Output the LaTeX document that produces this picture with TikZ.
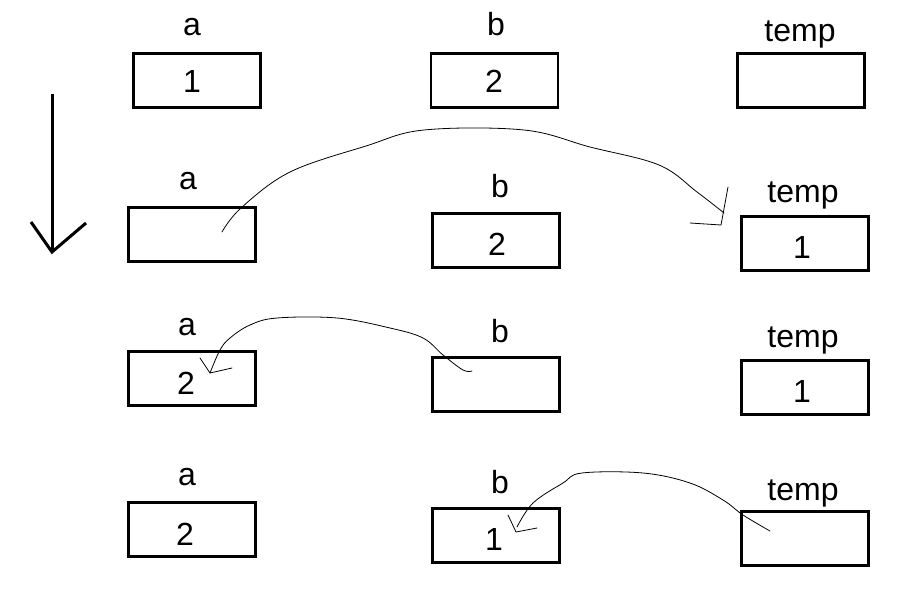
\documentclass[tikz,border=0pt]{standalone}
\usepackage{fontspec}
\setmainfont{Liberation Sans}
\begin{document}
\begin{tikzpicture}[x=1pt,y=-1pt,
  cell/.style={draw,line width=2.8pt,minimum width=127pt,minimum height=54pt,inner sep=0pt},
  num/.style={inner sep=0pt,font=\fontsize{32}{38}\selectfont},
  lbl/.style={anchor=base,inner sep=0pt,font=\fontsize{32}{38}\selectfont},
  hand/.style={line width=0.8pt,line join=round,line cap=round}]
\useasboundingbox (0,0) rectangle (903,596);
% row 1
\node[cell] (a1) at (197,80.5) {};
\node[cell] (b1) at (494.5,80.5) {};
\node[cell] (t1) at (801,80.5) {};
\node[num] (va1) at (192,81) {1};
\node[num] (vb1) at (494,81) {2};
\node[lbl] (la1) at (192,36) {a};
\node[lbl] (lb1) at (496,36) {b};
\node[lbl] (lt1) at (800,42) {temp};
% row 2
\node[cell] (a2) at (192,234.5) {};
\node[cell] (b2) at (496,240.5) {};
\node[cell] (t2) at (805,243.5) {};
\node[num] (vb2) at (497,244) {2};
\node[num] (vt2) at (802,247) {1};
\node[lbl] (la2) at (188,190) {a};
\node[lbl] (lb2) at (500,198) {b};
\node[lbl] (lt2) at (803,203) {temp};
% row 3
\node[cell] (a3) at (192,378.5) {};
\node[cell] (b3) at (496,384.5) {};
\node[cell] (t3) at (805,387.5) {};
\node[num] (va3) at (186,383) {2};
\node[num] (vt3) at (802,391) {1};
\node[lbl] (la3) at (187,335) {a};
\node[lbl] (lb3) at (500,342) {b};
\node[lbl] (lt3) at (803,347) {temp};
% row 4
\node[cell] (a4) at (192,529.5) {};
\node[cell] (b4) at (496,535.5) {};
\node[cell] (t4) at (805,538.5) {};
\node[num] (va4) at (185,534) {2};
\node[num] (vb4) at (494,539) {1};
\node[lbl] (la4) at (187,485) {a};
\node[lbl] (lb4) at (500,493) {b};
\node[lbl] (lt4) at (803,500) {temp};
% down arrow
\coordinate (top) at (52,94);
\coordinate (tip) at (52,252);
\draw[line width=3pt] (top) -- (tip);
\draw[line width=3pt,line join=miter] (31,222) -- (tip) -- (86,223);
% curve 1: a -> temp
\draw[hand] plot[smooth,tension=0.6] coordinates {(222,232) (241,208) (290,172) (366,146) (424,130) (524,130) (590,147) (659,165) (697,192) (724,213)};
\draw[hand] (728,187) -- (721,225) -- (690,223);
% curve 2: b -> a
\draw[hand] plot[smooth,tension=0.6] coordinates {(472,371) (463,370) (443,355) (423,338) (390,328) (337,318) (277,318) (250,325) (230,338) (220,350) (210,373)};
\draw[hand] (200,358) -- (210,373) -- (232,368);
% curve 3: temp -> b
\draw[hand] plot[smooth,tension=0.6] coordinates {(770,531) (743,515) (723,500) (690,483) (643,473) (582,473) (563,483) (533,503) (517,527)};
\draw[hand] (508,515) -- (516,532) -- (537,528);
\end{tikzpicture}
\end{document}
